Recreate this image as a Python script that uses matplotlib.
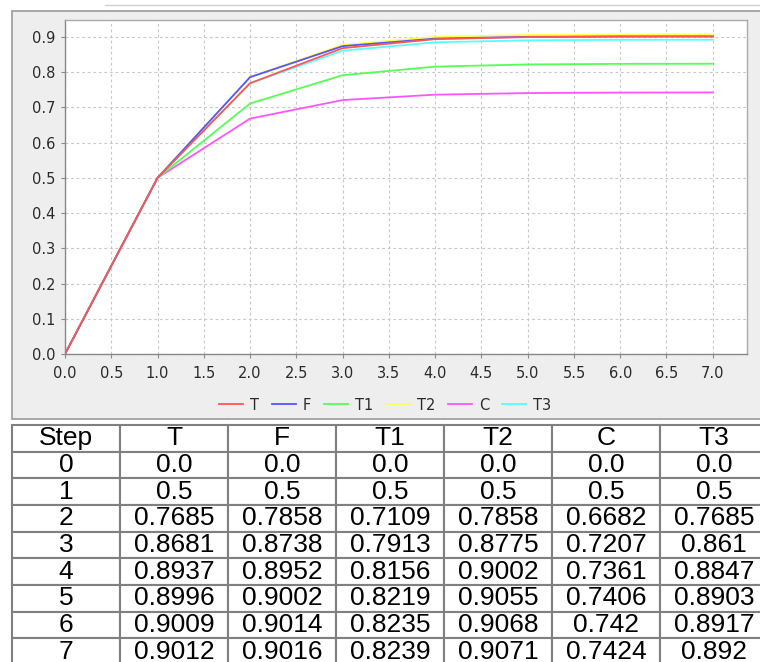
import matplotlib
matplotlib.use("Agg")
import matplotlib.pyplot as plt
from matplotlib.patches import Rectangle
from matplotlib.lines import Line2D

# data
steps = [0, 1, 2, 3, 4, 5, 6, 7]
names = ["T", "F", "T1", "T2", "C", "T3"]
t_vals = [0.0, 0.5, 0.7685, 0.8681, 0.8937, 0.8996, 0.9009, 0.9012]
f_vals = [0.0, 0.5, 0.7858, 0.8738, 0.8952, 0.9002, 0.9014, 0.9016]
t1_vals = [0.0, 0.5, 0.7109, 0.7913, 0.8156, 0.8219, 0.8235, 0.8239]
t2_vals = [0.0, 0.5, 0.7858, 0.8775, 0.9002, 0.9055, 0.9068, 0.9071]
c_vals = [0.0, 0.5, 0.6682, 0.7207, 0.7361, 0.7406, 0.742, 0.7424]
t3_vals = [0.0, 0.5, 0.7685, 0.861, 0.8847, 0.8903, 0.8917, 0.892]
series = [t_vals, f_vals, t1_vals, t2_vals, c_vals, t3_vals]
colors = ["#ff5555", "#5555ff", "#55ff55", "#ffff55", "#ff55ff", "#55ffff"]

W, H = 760, 662
fig = plt.figure(figsize=(W / 100, H / 100), dpi=100)
fig.patch.set_facecolor("white")

def fx(px):
    return px / W

def fy(py):
    return 1 - py / H

# gray chart panel (behind the axes)
fig.patches.append(Rectangle((fx(12), fy(419)), fx(760 - 12) + 0.01, (419 - 11) / H,
                             transform=fig.transFigure, facecolor="#eeeeee",
                             edgecolor="#9a9a9a", linewidth=1.2, zorder=-5))
fig.lines.append(Line2D([fx(105), 1], [fy(5), fy(5)], transform=fig.transFigure,
                        color="#d0d0d0", linewidth=1, zorder=-5))

ax = fig.add_axes([fx(65), fy(354), fx(747 - 65), (354 - 20) / H])
ax.set_facecolor("white")
n = len(series)
for i, (name, vals, col) in enumerate(zip(names, series, colors)):
    ax.plot(steps, vals, color=col, linewidth=1.3, label=name, zorder=3 + n - i)

ax.set_xlim(0, 7.37)
ax.set_ylim(0, 0.948)
ax.set_xticks([i * 0.5 for i in range(15)])
ax.set_yticks([i * 0.1 for i in range(10)])
ax.xaxis.set_major_formatter(matplotlib.ticker.FormatStrFormatter("%.1f"))
ax.yaxis.set_major_formatter(matplotlib.ticker.FormatStrFormatter("%.1f"))
ax.grid(True, color="#c8c8c8", linestyle=(0, (2.5, 2.5)), linewidth=0.8, zorder=1)
ax.tick_params(direction="out", length=3, width=0.8, color="#888888",
               labelsize=10.5, labelcolor="#2a2a2a")
ax.tick_params(axis="x", pad=6)
ax.tick_params(axis="y", pad=4)
for s in ax.spines.values():
    s.set_color("#aaaaaa")
    s.set_linewidth(1)
ax.spines["left"].set_color("#888888")
ax.spines["bottom"].set_color("#888888")

leg = fig.legend(loc="center", bbox_to_anchor=(fx(385), fy(405)), ncol=6,
                 frameon=False, fontsize=10.5, handlelength=1.65, handletextpad=0.45,
                 columnspacing=0.9)
for t in leg.get_texts():
    t.set_color("#2a2a2a")

# table under the chart
tax = fig.add_axes([fx(12), fy(665), 756 / W, (665 - 425) / H])
tax.axis("off")
cell_text = []
for k, st in enumerate(steps):
    cell_text.append([str(st)] + [str(v[k]) for v in series])
tab = tax.table(cellText=cell_text, colLabels=["Step"] + names, loc="center",
                bbox=[0, 0, 1, 1], cellLoc="center")
tab.auto_set_font_size(False)
for cell in tab.get_celld().values():
    cell.set_edgecolor("#808080")
    cell.set_linewidth(1.5)
    cell.set_facecolor("white")
    cell.get_text().set_fontsize(19)
    cell.get_text().set_fontfamily("Liberation Sans")
    cell.get_text().set_color("black")

fig.savefig("out.png", dpi=100)
